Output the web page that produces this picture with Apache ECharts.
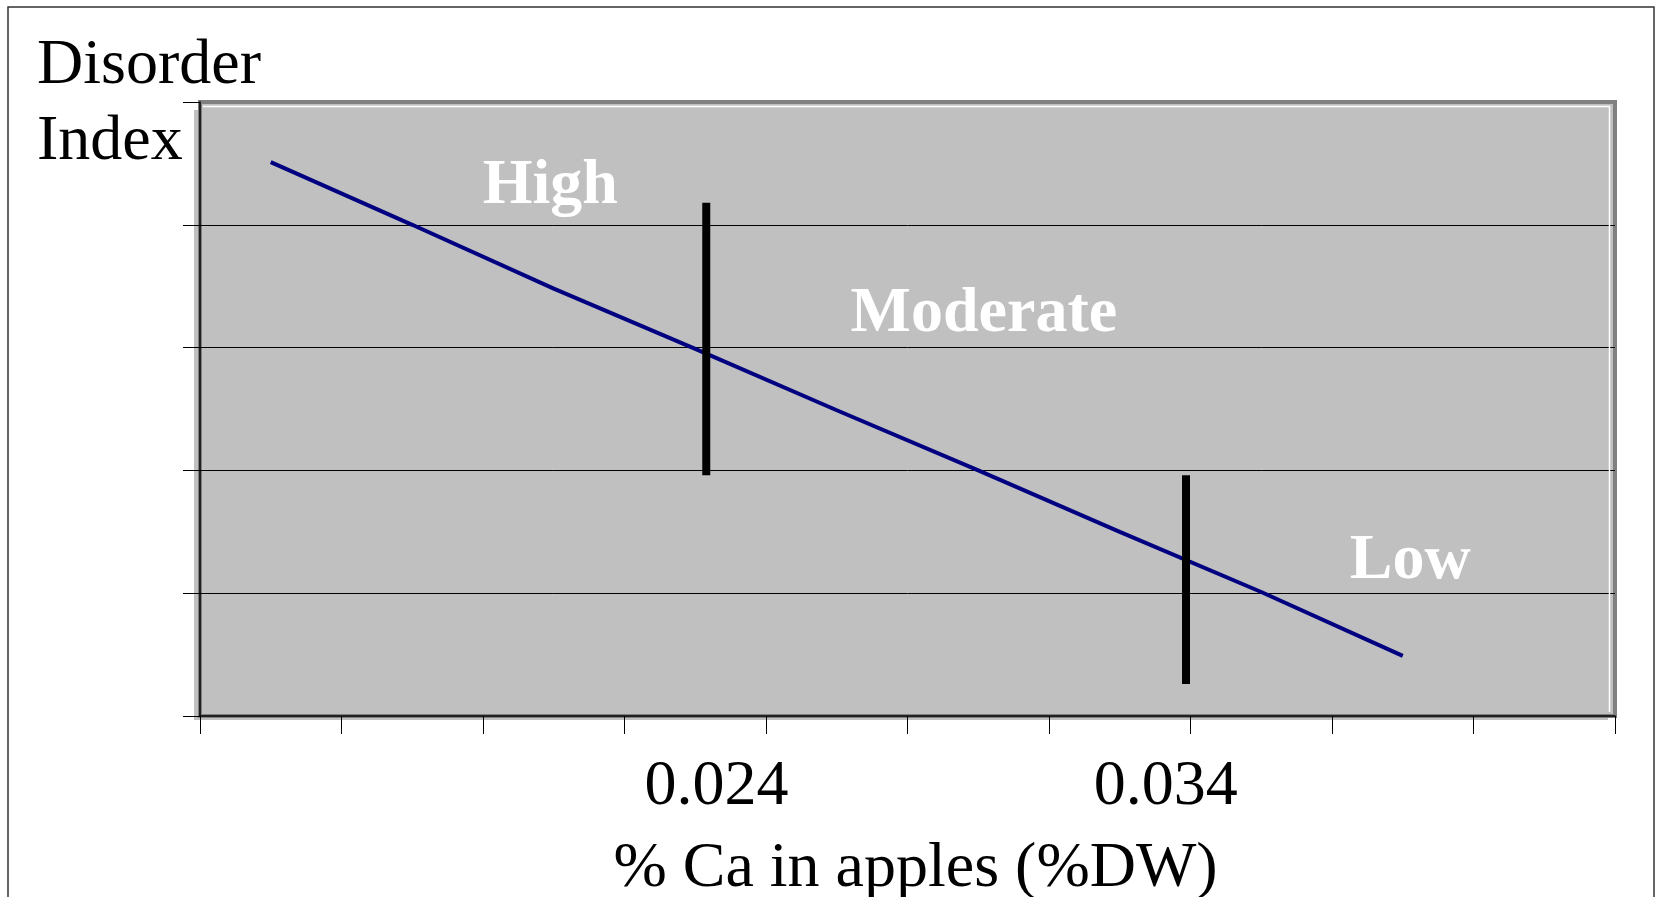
<!DOCTYPE html>
<html><head><meta charset="utf-8">
<script src="https://cdn.jsdelivr.net/npm/echarts@6/dist/echarts.min.js"></script>
<style>html,body{margin:0;padding:0;background:#fff;overflow:hidden;} #main{width:1655px;height:897px;}</style>
</head><body><div id="main"></div>
<script>
// ---- data ----
const categories = ['c1','c2','c3','c4','c5','c6','c7','c8','c9','c10'];
const disorderIndex = [4.51, 4.00, 3.48, 2.99, 2.49, 2.00, 1.50, 1.01, 0.49];
const caTickValues = [0.024, 0.034];
const caTickLabels = ['0.024', '0.034'];
const boundaryCa = [0.02377, 0.03445];
const boundaryTop = [4.18, 1.96];
const boundaryBottom = [1.96, 0.26];
const zoneNames = ['High', 'Moderate', 'Low'];
const zoneCa = [0.0203, 0.02995, 0.03944];
const zoneIndex = [4.31, 3.27, 1.26];
const yAxisTitle = 'Disorder\nIndex';
const xAxisTitle = '% Ca in apples (%DW)';

const FONT = "'Liberation Serif', 'Times New Roman', serif";
const chart = echarts.init(document.getElementById('main'), null, {renderer: 'canvas'});

const gridRect = {left: 200, top: 102, right: 40, bottom: 181, containLabel: false, outerBoundsMode: 'none'};

const boundarySeries = boundaryCa.map((x, i) => ({
  type: 'line', xAxisIndex: 1, yAxisIndex: 1, silent: true, z: 4,
  symbol: 'none',
  lineStyle: {color: '#000', width: 8, cap: 'butt'},
  data: [[x, boundaryTop[i]], [x, boundaryBottom[i]]]
}));

chart.setOption({
  animation: false,
  backgroundColor: '#fff',
  title: {
    text: yAxisTitle, left: 37, top: 28, padding: 0,
    textStyle: {fontFamily: FONT, fontSize: 64, fontWeight: 'normal', color: '#000', lineHeight: 76}
  },
  grid: [
    Object.assign({show: true, backgroundColor: '#C0C0C0', borderColor: '#808080', borderWidth: 4}, gridRect),
    Object.assign({show: false}, gridRect)
  ],
  xAxis: [
    {
      type: 'category', gridIndex: 0, data: categories, boundaryGap: true,
      axisLine: {show: true, lineStyle: {color: '#000', width: 1.5}},
      axisTick: {show: true, interval: 0, length: 18, lineStyle: {color: '#000', width: 1}},
      axisLabel: {show: false},
      splitLine: {show: false},
      name: xAxisTitle, nameLocation: 'middle', nameGap: 121,
      nameTextStyle: {fontFamily: FONT, fontSize: 64, color: '#000', lineHeight: 64, padding: [0, 0, 0, 16]}
    },
    {
      type: 'value', gridIndex: 1, min: 0.0125, max: 0.044, position: 'bottom',
      axisLine: {show: false}, axisTick: {show: false}, splitLine: {show: false},
      axisLabel: {
        show: true, customValues: caTickValues, margin: 39,
        fontFamily: FONT, fontSize: 64, color: '#000', lineHeight: 64,
        formatter: v => {
          const i = caTickValues.findIndex(t => Math.abs(t - v) < 1e-7);
          return i >= 0 ? caTickLabels[i] : '';
        }
      }
    }
  ],
  yAxis: [
    {
      type: 'value', gridIndex: 0, min: 0, max: 5, interval: 1,
      axisLine: {show: true, lineStyle: {color: '#000', width: 1.5}},
      axisTick: {show: true, length: 17, lineStyle: {color: '#000', width: 1}},
      axisLabel: {show: false},
      splitLine: {show: true, showMaxLine: false, showMinLine: false, lineStyle: {color: '#000', width: 1}}
    },
    {type: 'value', gridIndex: 1, min: 0, max: 5, show: false}
  ],
  series: [
    {
      type: 'line', xAxisIndex: 0, yAxisIndex: 0, data: disorderIndex,
      symbol: 'none', silent: true, z: 3,
      lineStyle: {color: '#000080', width: 4}
    },
    ...boundarySeries,
    {
      type: 'scatter', xAxisIndex: 1, yAxisIndex: 1, silent: true, z: 5,
      symbolSize: 1, itemStyle: {color: '#C0C0C0', opacity: 1},
      data: zoneNames.map((n, i) => ({name: n, value: [zoneCa[i], zoneIndex[i]]})),
      label: {
        show: true, position: 'inside', formatter: p => p.name, opacity: 1,
        fontFamily: FONT, fontSize: 64, fontWeight: 'bold', color: '#ffffff', lineHeight: 64,
        align: 'center', verticalAlign: 'middle'
      }
    }
  ],
  graphic: [
    {type: 'rect', silent: true, z: -1, shape: {x: 194, y: 110, width: 1414, height: 610},
     style: {fill: '#C0C0C0'}},
    {type: 'rect', silent: true, shape: {x: 8, y: 7, width: 1646, height: 1000},
     style: {fill: 'none', stroke: '#333', lineWidth: 1.5}, z: 100},
    {type: 'polyline', silent: true, shape: {points: [[203, 106.5], [1609.5, 106.5], [1609.5, 712]]},
     style: {fill: 'none', stroke: '#fff', lineWidth: 1.5}, z: 1}
  ]
});
</script>
</body></html>
